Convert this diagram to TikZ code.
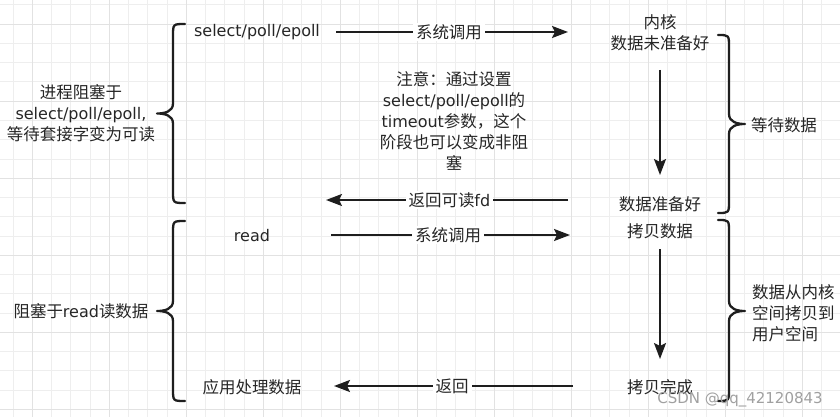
\documentclass[tikz,border=0pt]{standalone}
\usepackage{fontspec}
\setmainfont{DejaVu Sans}
\newfontfamily\cjk[Scale=1.03]{Noto Sans CJK SC}
\usetikzlibrary{arrows.meta}
\newcommand\C[1]{{\cjk #1}}
\definecolor{gridminor}{HTML}{EEEEEE}
\definecolor{gridmajor}{HTML}{E2E2E2}
\definecolor{ink}{HTML}{1E1E1E}
\definecolor{txt}{HTML}{262626}
\definecolor{wmark}{HTML}{A0A0A0}
\begin{document}
\begin{tikzpicture}[x=1pt,y=-1pt,
  lbl/.style={font=\fontsize{16}{21}\selectfont, text=txt, inner sep=0pt, align=center},
  arrlbl/.style={lbl, fill=white, inner xsep=3pt, inner ysep=1pt},
  arr/.style={draw=ink, line width=2.1pt, -{Stealth[length=16pt,width=12pt,inset=3pt]}},
  br/.style={draw=ink, line width=2.3pt, line cap=round, line join=round},
  minor/.style={draw=gridminor, line width=1pt},
  major/.style={draw=gridmajor, line width=1pt}]
\useasboundingbox (0,0) rectangle (840,417);
\fill[white] (0,0) rectangle (840,417);
% grid
\foreach \i in {0,...,43} \draw[minor] ({13.05+19.25*\i},0) -- ({13.05+19.25*\i},417);
\foreach \j in {0,...,21} \draw[minor] (0,{5+19.25*\j}) -- (840,{5+19.25*\j});
\foreach \i in {0,...,10} \draw[major] ({32.3+77*\i},0) -- ({32.3+77*\i},417);
\foreach \j in {0,...,5} \draw[major] (0,{24.25+77*\j}) -- (840,{24.25+77*\j});

% braces
\draw[br] (185,24) .. controls (173,24) .. (173,36) -- (173,103.5) .. controls (173,111.5) and (165,113.5) .. (157,113.5) .. controls (165,113.5) and (173,115.5) .. (173,123.5) -- (173,191) .. controls (173,203) .. (185,203);
\draw[br] (185,221) .. controls (173,221) .. (173,233) -- (173,301) .. controls (173,309) and (165,311) .. (157,311) .. controls (165,311) and (173,313) .. (173,321) -- (173,389) .. controls (173,401) .. (185,401);
\draw[br] (718,35) .. controls (729,35) .. (729,47) -- (729,114) .. controls (729,122) and (737,124) .. (745,124) .. controls (737,124) and (729,126) .. (729,134) -- (729,201) .. controls (729,213) .. (718,213);
\draw[br] (718,220) .. controls (729,220) .. (729,232) -- (729,301) .. controls (729,309) and (737,311) .. (745,311) .. controls (737,311) and (729,313) .. (729,321) -- (729,389) .. controls (729,401) .. (718,401);

% texts
\node[lbl] (sel) at (257,32) {select/poll/epoll};
\node[lbl] (lt1) at (81,113) {\C{进程阻塞于}\\select/poll/epoll,\\\C{等待套接字变为可读}};
\node[lbl] (kern) at (660,33) {\C{内核}\\\C{数据未准备好}};
\node[lbl] (note) at (454,121) {\C{注意：通过设置}\\select/poll/epoll\C{的}\\timeout\C{参数，这个}\\\C{阶段也可以变成非阻}\\\C{塞}};
\node[lbl] (wait) at (784,125) {\C{等待数据}};
\node[lbl] (ready) at (660,204) {\C{数据准备好}};
\node[lbl] (read) at (252,236) {read};
\node[lbl] (lt2) at (81,311) {\C{阻塞于}read\C{读数据}};
\node[lbl] (copy) at (660,231) {\C{拷贝数据}};
\node[lbl, align=left, anchor=west] (ct) at (752,313) {\C{数据从内核}\\\C{空间拷贝到}\\\C{用户空间}};
\node[lbl] (app) at (252,387) {\C{应用处理数据}};
\node[lbl] (done) at (660,387) {\C{拷贝完成}};

% connector end points
\coordinate (a1s) at (336,32);  \coordinate (a1e) at (568,32);
\coordinate (a2s) at (568,200); \coordinate (a2e) at (326,200);
\coordinate (a3s) at (331,235); \coordinate (a3e) at (570,235);
\coordinate (a4s) at (573,386); \coordinate (a4e) at (334,386);
\coordinate (d1s) at (660,70);  \coordinate (d1e) at (660,175);
\coordinate (d2s) at (660,249); \coordinate (d2e) at (660,359);

\draw[arr] (a1s) -- node[arrlbl, pos=0.487] {\C{系统调用}} (a1e);
\draw[arr] (a2s) -- node[arrlbl, pos=0.49] {\C{返回可读}fd} (a2e);
\draw[arr] (a3s) -- node[arrlbl, pos=0.49] {\C{系统调用}} (a3e);
\draw[arr] (a4s) -- node[arrlbl, pos=0.506] {\C{返回}} (a4e);
\draw[arr] (d1s) -- (d1e);
\draw[arr] (d2s) -- (d2e);

% watermark
\node[font=\fontsize{15}{18}\selectfont, text=wmark, inner sep=0pt] (wm) at (740,400) {CSDN @qq\_42120843};
\end{tikzpicture}
\end{document}
